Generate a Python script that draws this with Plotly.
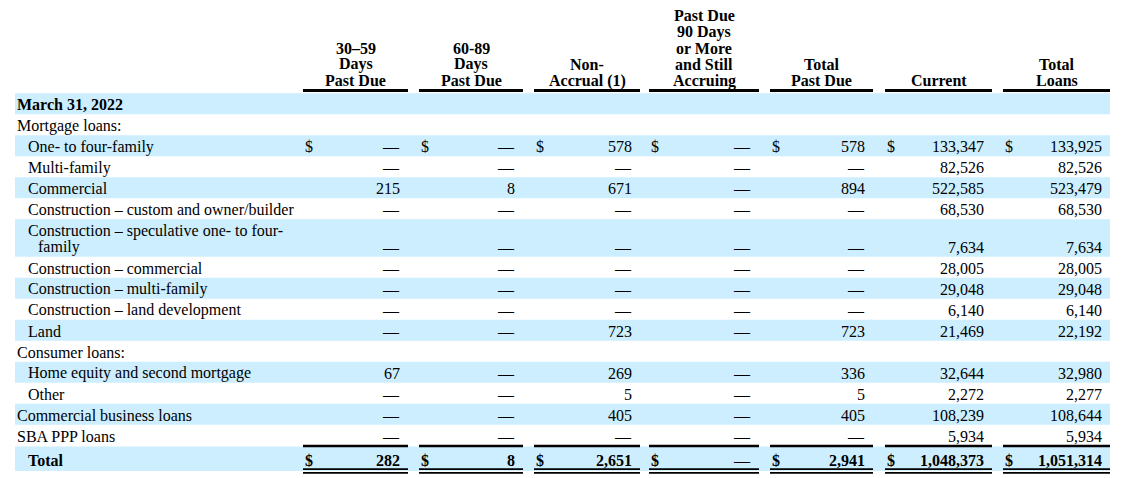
import plotly.graph_objects as go

# ---- data ----
header_lines = [
    ["30–59", "Days", "Past Due"],
    ["60-89", "Days", "Past Due"],
    ["Non-", "Accrual (1)"],
    ["Past Due", "90 Days", "or More", "and Still", "Accruing"],
    ["Total", "Past Due"],
    ["Current"],
    ["Total", "Loans"],
]

row_labels = [
    "March 31, 2022",
    "Mortgage loans:",
    "One- to four-family",
    "Multi-family",
    "Commercial",
    "Construction – custom and owner/builder",
    "Construction – speculative one- to four-|family",
    "Construction – commercial",
    "Construction – multi-family",
    "Construction – land development",
    "Land",
    "Consumer loans:",
    "Home equity and second mortgage",
    "Other",
    "Commercial business loans",
    "SBA PPP loans",
    "Total",
]
row_indent = [0, 0, 1, 1, 1, 1, 1, 1, 1, 1, 1, 0, 1, 1, 0, 0, 1]
dollar_rows = ["One- to four-family", "Total"]

# None = heading row (no values), 0 = dash
days_30_59 = [None, None, 0, 0, 215, 0, 0, 0, 0, 0, 0, None, 67, 0, 0, 0, 282]
days_60_89 = [None, None, 0, 0, 8, 0, 0, 0, 0, 0, 0, None, 0, 0, 0, 0, 8]
non_accrual = [None, None, 578, 0, 671, 0, 0, 0, 0, 0, 723, None, 269, 5, 405, 0, 2651]
days_90_plus = [None, None, 0, 0, 0, 0, 0, 0, 0, 0, 0, None, 0, 0, 0, 0, 0]
total_past_due = [None, None, 578, 0, 894, 0, 0, 0, 0, 0, 723, None, 336, 5, 405, 0, 2941]
current = [None, None, 133347, 82526, 522585, 68530, 7634, 28005, 29048, 6140, 21469, None,
           32644, 2272, 108239, 5934, 1048373]
total_loans = [None, None, 133925, 82526, 523479, 68530, 7634, 28005, 29048, 6140, 22192, None,
               32980, 2277, 108644, 5934, 1051314]
columns = [days_30_59, days_60_89, non_accrual, days_90_plus, total_past_due, current, total_loans]

# ---- layout geometry (pixels in the window) ----
W, H = 1127, 478
OFF = 8  # default body margin of the html page
FONT = "Liberation Serif, Times New Roman, serif"
BAND = "#CCEEFF"
col_left = [303, 419, 534, 649, 770, 885, 1003]
col_right = [408, 523, 640, 759, 873, 992, 1110]
num_pad = 7
band_x0, band_x1 = 15, 1110
top = 93.3
pitch = 21.0
line_gap = 16.5
indent_x = [16, 27]

fig = go.Figure()
ann = []
shapes = []


def txt(x, y, s, anchor, bold=False, size=16):
    if bold:
        s = "<b>" + s + "</b>"
    ann.append(dict(x=x, y=y, xref="x", yref="y", text=s, showarrow=False,
                    xanchor=anchor, yanchor="middle", borderpad=0,
                    font=dict(family=FONT, size=size, color="black")))


# header
for i, lines in enumerate(header_lines):
    cx = (col_left[i] + col_right[i]) / 2
    n = len(lines)
    for j, ln in enumerate(lines):
        txt(cx, 80.5 - (n - 1 - j) * 16.2, ln, "center", bold=True)
    shapes.append(dict(type="line", xref="x", yref="y", x0=col_left[i], x1=col_right[i],
                       y0=90.5, y1=90.5, line=dict(color="black", width=3)))

# body rows
y = top
for r, label in enumerate(row_labels):
    parts = label.split("|")
    is_total = label == "Total"
    h = pitch + (len(parts) - 1) * line_gap + (3.5 if is_total else 0)
    if is_total:
        y += 0.8
    if r % 2 == 0:
        shapes.append(dict(type="rect", xref="x", yref="y", x0=band_x0, x1=band_x1,
                           y0=y, y1=y + h, fillcolor=BAND, line=dict(width=0), layer="below"))
    bold = r == 0 or is_total
    first_y = y + pitch / 2 + 0.8 + (2.5 if is_total else 0)
    for j, p in enumerate(parts):
        txt(indent_x[row_indent[r]] + 10 * j, first_y + j * line_gap, p, "left", bold=bold)
    val_y = first_y + (len(parts) - 1) * line_gap
    for c, col in enumerate(columns):
        v = col[r]
        if v is None:
            continue
        s = "—" if v == 0 else f"{v:,}"
        txt(col_right[c] - num_pad, val_y, s, "right", bold=bold and v != 0)
        if label in dollar_rows:
            txt(col_left[c] + 1, val_y, "$", "left", bold=bold)
    if is_total:
        for c in range(len(columns)):
            shapes.append(dict(type="line", xref="x", yref="y", x0=col_left[c], x1=col_right[c],
                               y0=y - 0.5, y1=y - 0.5, line=dict(color="black", width=2.5)))
            for yy in (469.2, 472.8):
                shapes.append(dict(type="line", xref="x", yref="y", x0=col_left[c], x1=col_right[c],
                                   y0=yy, y1=yy, line=dict(color="black", width=1.8)))
    y += h

fig.update_layout(
    width=W - OFF, height=H - OFF,
    margin=dict(l=0, r=0, t=0, b=0),
    paper_bgcolor="white", plot_bgcolor="white",
    xaxis=dict(range=[OFF, W], visible=False, fixedrange=True),
    yaxis=dict(range=[H, OFF], visible=False, fixedrange=True),
    annotations=ann, shapes=shapes, showlegend=False,
)
fig.write_html("out.html")
